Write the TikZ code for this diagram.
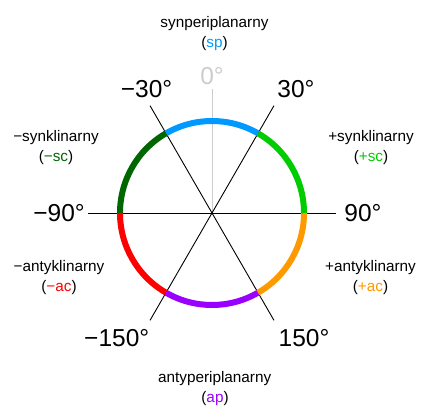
\documentclass[tikz,border=0pt]{standalone}
\usepackage{fontspec}
\setmainfont{Liberation Sans}
\usetikzlibrary{calc}
\definecolor{cSP}{HTML}{0099FF}
\definecolor{cPSC}{HTML}{00CC00}
\definecolor{cMSC}{HTML}{006600}
\definecolor{cPAC}{HTML}{FF9900}
\definecolor{cMAC}{HTML}{FF0000}
\definecolor{cAP}{HTML}{9900FF}
\definecolor{cGray}{HTML}{CCCCCC}
\tikzset{
  big/.style={anchor=base,inner sep=0pt,font=\fontsize{24.5}{28}\selectfont},
  small/.style={anchor=base,inner sep=0pt,font=\fontsize{15.3}{18}\selectfont},
  axis/.style={line width=0.9pt,black},
  zaxis/.style={line width=0.9pt,cGray},
  sector/.style={line width=6pt,line cap=butt},
}
\begin{document}
\begin{tikzpicture}[x=1pt,y=1pt]
\useasboundingbox (0,0) rectangle (428,418);
\coordinate (c) at (212,205);
% axis end points (angle measured clockwise from top)
\coordinate (e0) at ($(c)+(90:124)$);
\coordinate (em30) at ($(c)+(120:124)$);
\coordinate (e150) at ($(c)+(-60:124)$);
\coordinate (e30) at ($(c)+(60:124)$);
\coordinate (em150) at ($(c)+(-120:124)$);
\coordinate (em90) at ($(c)+(180:124)$);
\coordinate (e90) at ($(c)+(0:124)$);
\draw[zaxis] (c) -- (e0);
\draw[axis] (em30) -- (e150);
\draw[axis] (e30) -- (em150);
\draw[axis] (em90) -- (e90);
% sectors
\draw[sector,cSP]  ($(c)+(60:92)$)  arc[start angle=60,end angle=120,radius=92];
\draw[sector,cMSC] ($(c)+(120:92)$) arc[start angle=120,end angle=180,radius=92];
\draw[sector,cMAC] ($(c)+(180:92)$) arc[start angle=180,end angle=240,radius=92];
\draw[sector,cAP]  ($(c)+(240:92)$) arc[start angle=240,end angle=300,radius=92];
\draw[sector,cPAC] ($(c)+(300:92)$) arc[start angle=300,end angle=360,radius=92];
\draw[sector,cPSC] ($(c)+(0:92)$)   arc[start angle=0,end angle=60,radius=92];
% angle labels
\node[big,cGray] (l0) at (212,333.5) {0°};
\node[big] (lm30) at (146.5,320.3) {−30°};
\node[big] (l30) at (296,320.3) {30°};
\node[big] (lm90) at (59,196) {−90°};
\node[big] (l90) at (363,196) {90°};
\node[big] (lm150) at (116.7,71.5) {−150°};
\node[big] (l150) at (304,71.5) {150°};
% conformation labels
\node[small] (nsp) at (214.5,390) {synperiplanarny};
\node[small] (asp) at (214.5,370) {(\textcolor{cSP}{sp})};
\node[small] (nmsc) at (56,276.3) {−synklinarny};
\node[small] (amsc) at (56,256.3) {(\textcolor{cMSC}{−sc})};
\node[small] (npsc) at (371,276.3) {+synklinarny};
\node[small] (apsc) at (371,256.3) {(\textcolor{cPSC}{+sc})};
\node[small] (nmac) at (59,146.5) {−antyklinarny};
\node[small] (amac) at (59,127) {(\textcolor{cMAC}{−ac})};
\node[small] (npac) at (370.5,146.5) {+antyklinarny};
\node[small] (apac) at (370.5,127) {(\textcolor{cPAC}{+ac})};
\node[small] (nap) at (214.7,35.3) {antyperiplanarny};
\node[small] (aap) at (215,16) {(\textcolor{cAP}{ap})};
\end{tikzpicture}
\end{document}
